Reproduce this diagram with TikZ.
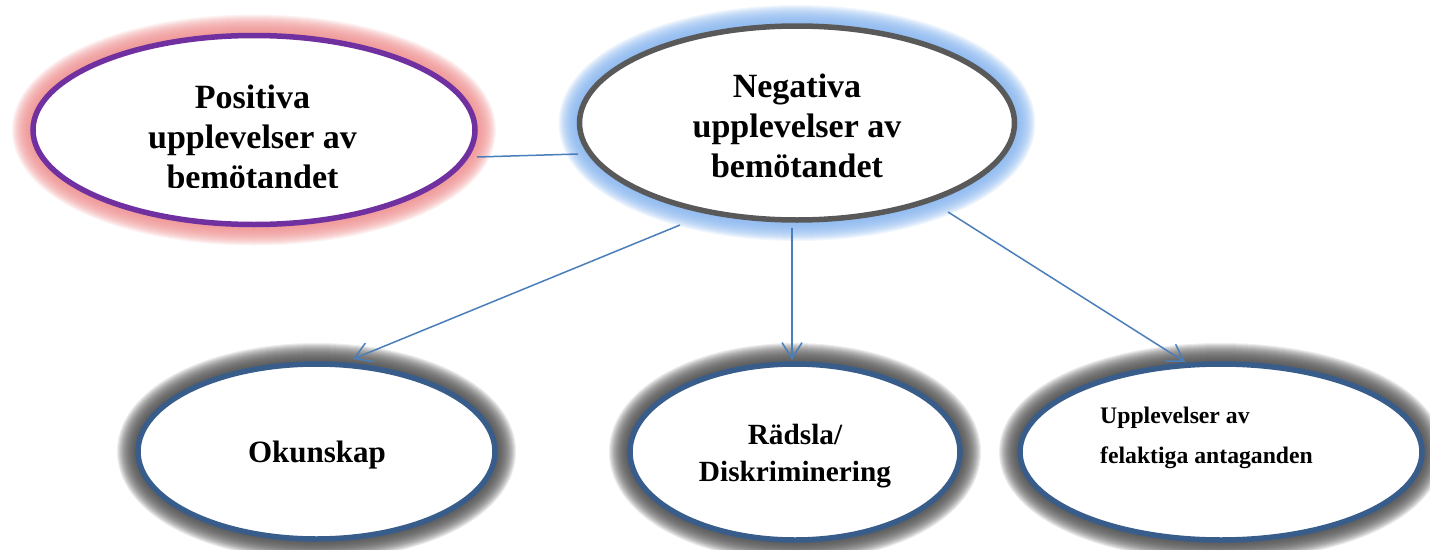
\documentclass[tikz,border=0pt]{standalone}
\usepackage{fontspec}
\setmainfont{Liberation Serif}
\usetikzlibrary{arrows.meta,shapes.geometric,calc}
\definecolor{purp}{RGB}{112,48,160}
\definecolor{darkgr}{RGB}{89,89,89}
\definecolor{bordblue}{RGB}{56,93,138}
\definecolor{connblue}{RGB}{74,126,187}
\definecolor{glowpink}{RGB}{238,140,140}
\definecolor{glowblue}{RGB}{130,178,238}
\definecolor{glowgray}{RGB}{70,70,70}
\tikzset{
  glow/.style={
    preaction={draw=#1,line width=42pt,opacity=.1},
    preaction={draw=#1,line width=40pt,opacity=.1},
    preaction={draw=#1,line width=38pt,opacity=.1},
    preaction={draw=#1,line width=36pt,opacity=.1},
    preaction={draw=#1,line width=34pt,opacity=.1},
    preaction={draw=#1,line width=32pt,opacity=.1},
    preaction={draw=#1,line width=30pt,opacity=.1},
    preaction={draw=#1,line width=28pt,opacity=.1},
    preaction={draw=#1,line width=26pt,opacity=.1},
    preaction={draw=#1,line width=24pt,opacity=.1},
    preaction={draw=#1,line width=22pt,opacity=.1},
    preaction={draw=#1,line width=20pt,opacity=.1},
    preaction={draw=#1,line width=18pt,opacity=.1},
    preaction={draw=#1,line width=16pt,opacity=.1},
    preaction={draw=#1,line width=14pt,opacity=.1},
    preaction={draw=#1,line width=12pt,opacity=.1},
    preaction={draw=#1,line width=10pt,opacity=.1},
    preaction={draw=#1,line width=8pt,opacity=.1}},
  bubble/.style={ellipse, line width=5.5pt, fill=white, inner sep=0pt},
  conn/.style={draw=connblue, line width=1.5pt},
  arr/.style={conn, -{Straight Barb[length=16pt,width=20pt,line width=1.5pt]}},
  txt/.style={align=center, inner sep=0pt}
}
\begin{document}
\begin{tikzpicture}[x=1pt,y=-1pt]
\useasboundingbox (0,0) rectangle (1430,549);
% ellipses
\node[bubble, glow=glowpink, draw=purp, minimum width=442pt, minimum height=189pt] (pos) at (254,130) {};
\node[bubble, glow=glowblue, draw=darkgr, minimum width=435pt, minimum height=194pt] (neg) at (797,123) {};
\node[bubble, glow=glowgray, draw=bordblue, minimum width=357pt, minimum height=175pt] (okun) at (316.5,451.5) {};
\node[bubble, glow=glowgray, draw=bordblue, minimum width=330pt, minimum height=176pt] (rad) at (795,452) {};
\node[bubble, glow=glowgray, draw=bordblue, minimum width=402pt, minimum height=176pt] (upp) at (1221,452) {};
% texts
\begin{scope}
\clip (0,0) rectangle (1430,187);
\node[txt, font=\bfseries\fontsize{34}{40}\selectfont] (post) at (252.5,137) {Positiva\\upplevelser av\\bemötandet};
\end{scope}
\node[txt, font=\bfseries\fontsize{34}{40}\selectfont] (negt) at (797,126) {Negativa\\upplevelser av\\bemötandet};
\node[txt, font=\bfseries\fontsize{31}{37}\selectfont] (okunt) at (317,455.5) {Okunskap};
\node[txt, font=\bfseries\fontsize{29.3}{37}\selectfont] (radt) at (795,456.5) {Rädsla/\\Diskriminering};
\node[txt, align=left, anchor=west, font=\bfseries\fontsize{23.7}{40}\selectfont] (uppt) at (1100,437.4) {Upplevelser av\\felaktiga antaganden};
% connectors
\draw[conn] ($(pos.center)+(223,27)$) -- ($(neg.center)+(-219,31)$);
\draw[arr] ($(neg.center)+(-117,102)$) -- ($(okun.center)+(36.5,-92.5)$);
\draw[arr] ($(neg.center)+(-5,105)$) -- ($(rad.center)+(-3,-92)$);
\draw[arr] ($(neg.center)+(151,89)$) -- ($(upp.center)+(-36,-90)$);
\end{tikzpicture}
\end{document}
